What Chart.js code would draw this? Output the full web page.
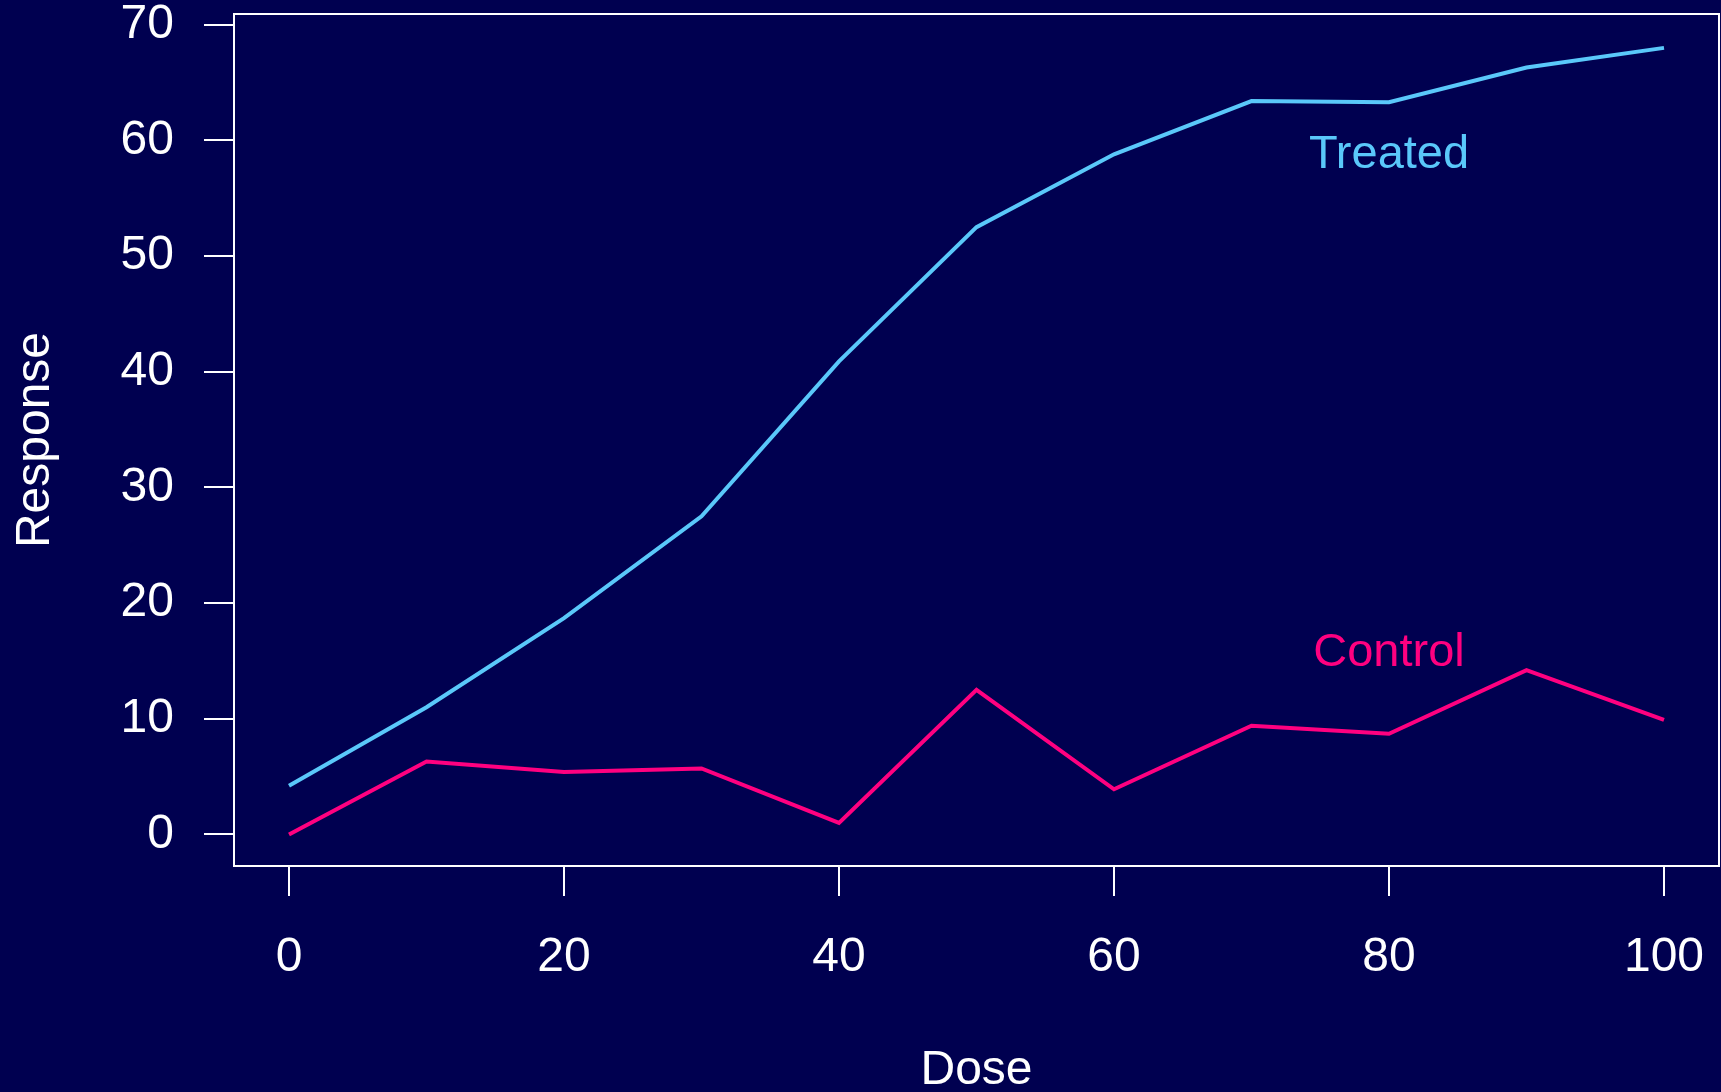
<!DOCTYPE html>
<html>
<head>
<meta charset="utf-8">
<script src="https://cdn.jsdelivr.net/npm/chart.js@4/dist/chart.umd.min.js"></script>
<style>
  html, body { margin: 0; padding: 0; background: #000050; }
  #wrap { width: 1721px; height: 1092px; }
</style>
</head>
<body>
<div id="wrap"><canvas id="doseChart"></canvas></div>
<script>
const doses = [0, 10, 20, 30, 40, 50, 60, 70, 80, 90, 100];
const treated = [4.2, 11.0, 18.7, 27.5, 40.9, 52.5, 58.8, 63.4, 63.3, 66.3, 68.0];
const control = [0.0, 6.3, 5.4, 5.7, 1.0, 12.5, 3.9, 9.4, 8.7, 14.2, 9.9];
const xTicks = [0, 20, 40, 60, 80, 100];
const yTicks = [0, 10, 20, 30, 40, 50, 60, 70];

const treatedColor = '#5ac8fa';
const controlColor = '#ff0080';
const family = '"Liberation Sans", Arial, sans-serif';
const font = { family, size: 48 };

// box around plot + the two series labels
const boxAndLabels = {
    id: 'boxAndLabels',
    afterDraw(chart) {
        const { ctx, chartArea: a, scales: { x, y } } = chart;
        ctx.save();
        ctx.strokeStyle = '#ffffff';
        ctx.lineWidth = 2;
        ctx.strokeRect(a.left, a.top, a.right - a.left, a.bottom - a.top);
        ctx.font = '47px ' + family;
        ctx.textAlign = 'center';
        ctx.textBaseline = 'middle';
        ctx.fillStyle = treatedColor;
        ctx.fillText('Treated', x.getPixelForValue(80), y.getPixelForValue(58.7));
        ctx.fillStyle = controlColor;
        ctx.fillText('Control', x.getPixelForValue(80), y.getPixelForValue(15.7));
        ctx.restore();
    }
};

const ctx = document.getElementById('doseChart').getContext('2d');
new Chart(ctx, {
    type: 'line',
    data: {
        datasets: [{
            label: 'Treated',
            data: doses.map((d, i) => ({ x: d, y: treated[i] })),
            borderColor: treatedColor,
            borderWidth: 4,
            pointRadius: 0,
            tension: 0
        }, {
            label: 'Control',
            data: doses.map((d, i) => ({ x: d, y: control[i] })),
            borderColor: controlColor,
            borderWidth: 4,
            pointRadius: 0,
            tension: 0
        }]
    },
    options: {
        responsive: true,
        maintainAspectRatio: false,
        animation: false,
        layout: { padding: { top: 14, right: 2, left: 0, bottom: 0 } },
        plugins: {
            legend: { display: false },
            tooltip: { enabled: false }
        },
        scales: {
            x: {
                type: 'linear',
                min: -4,
                max: 104,
                afterBuildTicks: s => { s.ticks = xTicks.map(v => ({ value: v })); },
                afterFit: s => { s.height = 226; s.paddingLeft = 0; s.paddingRight = 0; },
                grid: { drawOnChartArea: false, tickLength: 30, color: '#ffffff', lineWidth: 2 },
                border: { display: false },
                ticks: { color: '#ffffff', font, padding: 33, maxRotation: 0 },
                title: { display: true, text: 'Dose', color: '#ffffff', font, padding: { top: 0, bottom: -8 } }
            },
            y: {
                min: -2.73,
                max: 70.93,
                afterBuildTicks: s => { s.ticks = yTicks.map(v => ({ value: v })); },
                afterFit: s => { s.width = 234; s.paddingTop = 0; s.paddingBottom = 0; },
                grid: { drawOnChartArea: false, tickLength: 30, color: '#ffffff', lineWidth: 2 },
                border: { display: false },
                ticks: { color: '#ffffff', font, padding: 30 },
                title: { display: true, text: 'Response', color: '#ffffff', font, padding: { top: 7, bottom: 0 } }
            }
        }
    },
    plugins: [boxAndLabels]
});
</script>
</body>
</html>
